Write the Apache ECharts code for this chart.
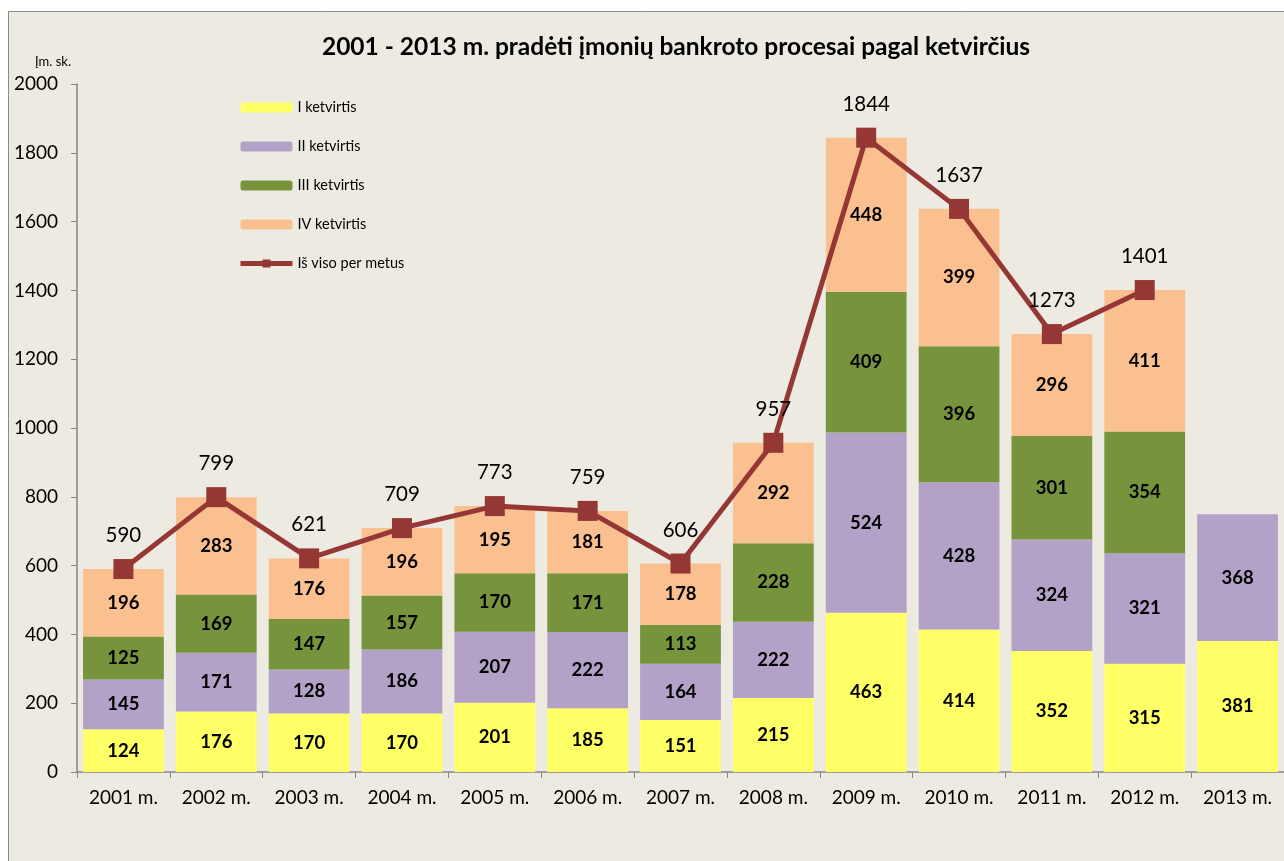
<!DOCTYPE html>
<html>
<head>
<meta charset="utf-8">
<script src="https://cdn.jsdelivr.net/npm/echarts@6/dist/echarts.min.js"></script>
<style>
  html, body { margin: 0; padding: 0; background: #fff; }
  #chart { width: 1284px; height: 861px; }
</style>
</head>
<body>
<div id="chart"></div>
<script>
// metai
const years = ['2001 m.', '2002 m.', '2003 m.', '2004 m.', '2005 m.', '2006 m.', '2007 m.',
  '2008 m.', '2009 m.', '2010 m.', '2011 m.', '2012 m.', '2013 m.'];
// ketvirčiai
const q1 = [124, 176, 170, 170, 201, 185, 151, 215, 463, 414, 352, 315, 381];
const q2 = [145, 171, 128, 186, 207, 222, 164, 222, 524, 428, 324, 321, 368];
const q3 = [125, 169, 147, 157, 170, 171, 113, 228, 409, 396, 301, 354, null];
const q4 = [196, 283, 176, 196, 195, 181, 178, 292, 448, 399, 296, 411, null];
// iš viso per metus
const totals = [590, 799, 621, 709, 773, 759, 606, 957, 1844, 1637, 1273, 1401, null];
const yTicks = [0, 2000, 200];

const FONT = 'Lato, "Open Sans", sans-serif';

const chart = echarts.init(document.getElementById('chart'));

function barSeries(name, data, color) {
  return {
    name: name,
    type: 'bar',
    stack: 'q',
    data: data,
    barCategoryGap: '13%',
    itemStyle: { color: color },
    label: {
      show: true,
      position: 'inside',
      color: '#000',
      fontFamily: FONT,
      fontWeight: 'bold',
      fontSize: 18.5
    },
    z: 2
  };
}

const option = {
  backgroundColor: '#fff',
  animation: false,
  textStyle: { fontFamily: FONT },
  graphic: [{
    type: 'rect',
    shape: { x: 8.5, y: 11.5, width: 1300, height: 900 },
    style: { fill: '#EDEBE1', stroke: '#8c8c8c', lineWidth: 1 },
    z: -10
  }],
  title: {
    text: '2001 - 2013 m. pradėti įmonių bankroto procesai pagal ketvirčius',
    left: 671,
    textAlign: 'center',
    top: 30,
    textStyle: { fontFamily: FONT, fontWeight: 'bold', fontSize: 24.5, color: '#000' }
  },
  legend: {
    orient: 'vertical',
    left: 233,
    top: 95,
    itemWidth: 52,
    itemHeight: 10,
    itemGap: 24,
    textStyle: { fontFamily: FONT, fontSize: 14.5, color: '#000' },
    data: ['I ketvirtis', 'II ketvirtis', 'III ketvirtis', 'IV ketvirtis',
      { name: 'Iš viso per metus', lineStyle: { width: 5 } }]
  },
  grid: { left: 77, top: 84, width: 1212, height: 688 },
  xAxis: {
    type: 'category',
    data: years,
    axisLine: { lineStyle: { color: '#868686', width: 1.5 } },
    axisTick: { show: true, length: 6, lineStyle: { color: '#868686' } },
    axisLabel: { color: '#000', fontFamily: FONT, fontSize: 19, margin: 16 }
  },
  yAxis: {
    type: 'value',
    min: yTicks[0],
    max: yTicks[1],
    interval: yTicks[2],
    name: 'Įm. sk.',
    nameLocation: 'end',
    nameGap: 16,
    nameTextStyle: { color: '#000', fontFamily: FONT, fontSize: 13, align: 'right', padding: [0, 6, 0, 0] },
    axisLine: { show: true, lineStyle: { color: '#868686', width: 1.5 } },
    axisTick: { show: true, length: 6, lineStyle: { color: '#868686' } },
    axisLabel: { color: '#000', fontFamily: FONT, fontSize: 19, margin: 19, formatter: v => String(v) },
    splitLine: { show: false }
  },
  series: [
    barSeries('I ketvirtis', q1, '#FFFF66'),
    barSeries('II ketvirtis', q2, '#B3A2C7'),
    barSeries('III ketvirtis', q3, '#77933C'),
    barSeries('IV ketvirtis', q4, '#FAC090'),
    {
      name: 'Iš viso per metus',
      type: 'line',
      data: totals,
      symbol: 'rect',
      symbolSize: 20,
      lineStyle: { color: '#953735', width: 5 },
      itemStyle: { color: '#953735' },
      label: {
        show: true,
        position: 'top',
        distance: 13,
        color: '#000',
        fontFamily: FONT,
        fontSize: 20.5
      },
      z: 5
    }
  ]
};

chart.setOption(option);
</script>
</body>
</html>
